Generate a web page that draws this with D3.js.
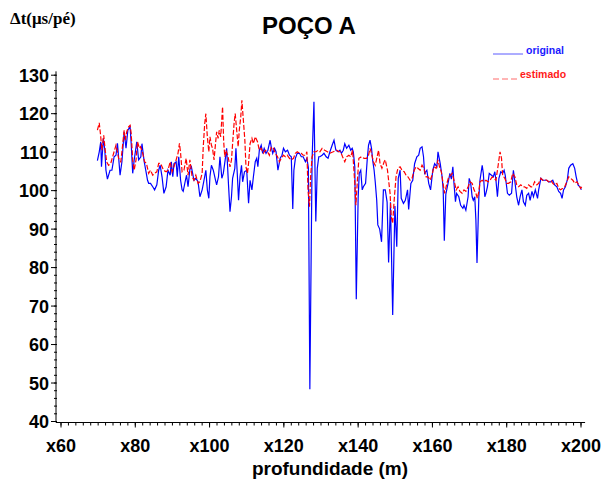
<!DOCTYPE html>
<html>
<head>
<meta charset="utf-8">
<script src="https://cdn.jsdelivr.net/npm/d3@7"></script>
<style>
  body { margin: 0; background: #fff; }
  svg { display: block; }
  .tick-label { font-family: "Liberation Sans", Arial, sans-serif; font-weight: bold; font-size: 18px; fill: #000; }
</style>
</head>
<body>
<div id="chart"></div>
<script>
// POÇO A – original vs estimado transit time by depth

// Depth (m) and transit time (µs/pé)
const depthOriginal = [
  69.8,70.3,70.7,70.9,71.4,71.8,72.1,72.5,73.2,73.7,74.3,74.8,75.2,75.5,75.9,76.4,77.0,77.5,78.0,78.6,
  78.9,79.3,79.7,80.4,80.9,81.5,81.8,82.4,82.9,83.3,83.6,84.1,84.7,85.2,85.8,86.3,86.7,87.2,87.7,88.3,
  88.8,89.4,89.7,90.1,90.4,91.0,91.3,91.7,92.2,92.6,92.9,93.5,93.8,94.2,94.7,95.1,95.8,96.3,96.9,97.4,
  98.0,98.5,99.0,99.4,99.8,100.1,100.5,101.0,101.6,101.9,102.4,102.8,103.3,103.7,104.2,104.6,105.1,105.5,105.9,106.2,
  106.8,107.1,107.5,107.8,108.2,108.6,108.9,109.4,110.0,110.5,110.9,111.4,111.8,112.3,112.7,113.0,113.4,113.9,114.3,114.7,
  115.2,115.7,116.3,116.6,117.0,117.5,117.9,118.4,119.0,119.5,119.9,120.4,121.0,121.5,122.0,122.4,122.7,123.1,123.6,124.2,
  124.7,125.2,125.8,126.2,126.6,127.0,127.6,128.1,128.6,129.0,129.4,129.7,130.3,130.8,131.4,131.9,132.4,133.0,133.5,134.0,
  134.6,135.1,135.5,136.0,136.4,136.9,137.5,138.0,138.4,138.7,139.1,139.5,140.0,140.3,140.7,141.1,141.4,142.0,142.5,142.8,
  143.2,143.6,143.9,144.3,144.6,145.0,145.3,145.8,146.3,146.8,147.3,147.8,148.2,148.7,149.3,149.9,150.4,150.8,151.3,151.6,
  152.2,152.7,153.3,153.6,154.2,154.7,155.2,155.8,156.3,156.7,157.2,157.6,157.9,158.5,159.0,159.5,160.1,160.6,161.2,161.5,
  162.1,162.6,162.9,163.2,163.6,164.2,164.7,165.1,165.5,165.8,166.2,166.5,167.1,167.6,168.2,168.5,169.0,169.6,169.9,170.3,
  170.7,171.0,171.4,171.7,172.0,172.5,172.8,173.4,173.7,174.1,174.4,174.8,175.3,175.9,176.4,176.8,177.1,177.5,177.9,178.4,
  178.9,179.3,179.6,180.2,180.7,181.3,181.8,182.2,182.7,183.2,183.6,184.1,184.5,185.0,185.4,185.9,186.3,186.8,187.2,187.7,
  188.3,188.6,189.2,189.7,190.2,190.8,191.3,191.9,192.4,192.9,193.5,194.0,194.5,194.9,195.3,195.8,196.3,196.7,197.2,197.8,
  198.3,198.7,199.2,199.7,200.1
];
const original = [
  107.8,110.1,112.7,106.2,113.6,110.5,105.3,103.0,105.3,105.3,108.8,109.2,112.3,108.8,104.0,107.5,115.3,111.0,115.7,116.6,
  112.2,104.5,107.9,112.7,108.0,108.8,112.2,107.5,104.9,102.7,101.9,101.9,101.0,100.2,101.5,105.3,106.6,103.6,99.3,101.0,
  105.3,104.0,107.5,103.6,107.0,107.5,103.6,108.8,102.7,100.2,99.8,102.7,104.0,101.0,105.5,106.2,102.7,103.2,102.3,98.4,
  100.2,102.7,105.3,100.2,98.0,103.6,106.6,105.3,102.7,101.5,103.6,108.8,103.2,104.5,108.0,111.0,101.5,94.5,98.4,103.2,
  105.8,111.0,103.6,97.5,103.6,106.6,102.3,104.9,105.3,96.7,102.7,100.2,103.6,107.5,108.4,106.2,110.5,111.8,109.7,111.0,
  109.7,110.5,113.1,111.4,109.7,111.0,110.1,105.3,108.4,109.2,111.0,110.1,110.5,109.2,108.8,95.2,105.3,108.4,109.7,109.7,
  108.8,108.8,107.5,108.4,106.0,48.4,108.0,123.1,92.0,105.8,108.8,108.8,109.2,109.7,108.8,108.4,110.1,111.8,113.1,110.5,
  110.1,110.5,109.7,110.5,112.2,111.0,111.8,110.5,111.0,110.1,106.2,71.8,98.0,104.5,105.3,100.2,101.0,101.9,108.8,111.8,
  113.1,111.0,108.0,105.3,102.3,97.5,91.1,90.0,86.7,100.2,100.2,97.0,81.3,97.0,67.7,96.0,85.4,103.2,105.3,98.0,
  96.7,97.5,100.2,95.1,101.9,102.7,107.0,108.8,109.2,111.0,111.4,108.8,104.5,105.3,101.9,100.2,105.3,107.0,106.2,110.1,
  107.0,103.6,100.2,87.0,99.0,101.9,104.5,103.0,106.2,101.9,97.1,99.3,98.4,96.2,95.4,96.2,94.9,98.4,103.2,101.9,
  98.4,97.5,98.4,92.4,81.2,98.4,102.7,106.6,104.5,98.4,99.3,101.0,104.5,104.0,103.6,104.9,102.7,98.4,103.2,104.9,
  104.5,105.3,104.0,99.3,98.8,99.3,105.3,102.3,98.4,96.2,98.4,100.2,97.1,96.2,98.8,99.3,97.5,99.8,98.4,100.2,
  98.0,100.2,103.2,102.7,102.7,102.7,102.3,102.3,102.7,101.5,101.0,99.8,99.3,98.0,100.2,101.0,102.7,105.8,106.6,107.0,
  105.8,103.6,101.5,101.0,100.2
];

const depthEstimado = [
  69.8,70.3,70.7,71.0,71.5,71.9,72.3,72.8,73.4,73.9,74.4,74.8,75.2,75.5,76.1,76.4,77.0,77.3,77.7,78.2,
  78.6,78.9,79.3,79.7,80.2,80.6,81.1,81.4,81.9,82.5,83.0,83.6,84.1,84.7,85.2,85.8,86.3,86.8,87.6,88.3,
  88.8,89.4,89.9,90.4,91.0,91.5,91.9,92.2,92.6,93.1,93.7,94.2,94.7,95.3,95.8,96.3,96.9,97.4,98.0,98.3,
  98.7,99.0,99.4,99.8,100.1,100.5,100.8,101.2,101.6,101.9,102.3,102.6,103.0,103.5,103.8,104.1,104.4,104.9,105.5,105.9,
  106.2,106.6,106.9,107.3,107.7,108.0,108.4,108.7,109.1,109.5,109.8,110.2,110.5,110.9,111.4,111.8,112.3,112.9,113.4,113.9,
  114.5,115.0,115.6,116.1,116.6,117.2,117.7,118.3,118.8,119.3,119.9,120.4,120.9,121.5,122.0,122.6,123.1,123.6,124.2,124.7,
  125.2,125.8,126.2,126.5,126.9,127.2,127.6,128.1,128.7,129.2,129.7,130.3,131.0,131.7,132.3,133.3,134.2,134.8,135.3,135.8,
  136.4,136.9,137.5,138.0,138.5,139.1,139.4,139.8,140.2,140.9,141.6,142.3,142.8,143.2,143.6,144.1,144.6,145.2,145.5,145.9,
  146.4,147.0,147.3,147.9,148.2,148.6,148.9,149.3,149.7,150.2,150.7,151.3,151.8,152.4,152.9,153.4,154.0,154.5,155.1,155.6,
  156.1,156.7,157.2,157.7,158.3,158.8,159.4,159.9,160.4,161.0,161.5,161.9,162.4,163.0,163.3,163.9,164.4,164.9,165.3,165.8,
  166.4,166.9,167.4,168.0,168.5,169.0,169.6,170.1,170.7,171.2,171.7,172.1,172.5,172.8,173.4,173.9,174.4,175.0,175.5,176.1,
  176.6,177.1,177.7,178.2,178.6,178.9,179.5,180.0,180.5,181.1,181.6,182.2,182.7,183.2,183.8,184.3,184.8,185.4,185.9,186.5,
  187.0,187.5,188.1,188.6,189.2,189.7,190.2,190.8,191.3,191.9,192.4,192.9,193.5,194.0,194.5,195.1,195.6,196.2,196.7,197.2,
  197.8,198.3,198.9,199.4,199.9,200.2
];
const estimado = [
  115.7,117.6,114.0,110.5,114.4,110.5,107.5,106.6,107.1,108.8,110.5,111.8,110.1,108.4,107.5,110.1,115.7,113.1,115.3,116.6,
  117.0,114.9,108.0,105.3,108.0,112.7,111.0,111.4,110.1,107.5,107.1,104.5,105.3,104.0,104.5,104.9,107.1,107.1,105.3,104.9,
  105.3,107.5,104.9,106.2,108.0,109.7,112.3,109.7,104.9,105.3,108.4,104.0,108.0,103.6,102.7,104.0,101.9,102.3,104.5,111.4,
  117.5,120.0,114.0,110.1,114.0,111.8,111.0,108.0,112.2,115.3,113.6,115.7,114.0,121.8,112.7,108.8,110.5,109.2,106.2,108.0,
  112.2,117.5,120.0,115.7,111.4,115.7,119.2,123.5,118.3,113.1,106.2,104.5,107.1,112.2,113.6,112.2,114.0,112.7,110.5,111.0,
  109.7,110.5,110.1,109.2,111.4,111.0,109.7,108.8,107.5,108.4,109.2,108.8,109.2,108.4,108.0,108.4,109.7,110.1,109.7,109.7,
  109.2,109.2,110.1,100.2,95.8,103.6,108.8,110.1,110.1,110.5,110.1,111.0,110.5,110.1,109.7,110.1,110.5,110.1,110.1,108.8,
  107.5,108.8,109.2,108.8,110.5,101.9,96.2,102.7,108.4,108.8,108.4,108.4,109.2,111.0,109.7,107.5,106.6,109.2,110.5,107.0,
  105.8,107.5,108.0,105.3,102.7,99.3,93.2,91.5,97.5,103.6,105.8,106.2,105.3,104.9,104.0,103.6,102.7,103.2,105.3,106.2,
  105.8,105.3,106.6,105.8,103.6,103.6,102.7,104.0,106.2,105.8,108.0,106.2,104.9,101.0,99.3,101.9,103.6,104.0,104.5,102.7,
  100.2,101.0,99.8,99.3,100.2,99.8,101.0,102.3,101.9,100.2,99.3,98.0,99.8,102.3,102.7,102.3,102.7,102.3,102.7,103.6,
  103.2,102.7,106.6,110.1,108.4,104.0,103.2,101.9,101.9,102.3,104.5,103.6,101.5,101.0,101.5,101.0,101.0,100.6,101.5,101.0,
  101.0,102.3,101.5,101.9,103.2,102.7,102.9,102.7,102.3,102.7,101.9,101.5,101.9,100.6,100.2,100.6,101.0,102.3,103.6,103.2,
  102.7,101.9,102.3,101.5,100.6,101.0
];

// Axis ticks
const xTicks = [60, 80, 100, 120, 140, 160, 180, 200];
const yTicks = [40, 50, 60, 70, 80, 90, 100, 110, 120, 130];

const width = 607, height = 486;

const svg = d3.select("#chart")
  .append("svg")
  .attr("width", width)
  .attr("height", height);

// Scales
const x = d3.scaleLinear().domain([60, 200]).range([61, 581]);
const y = d3.scaleLinear().domain([40, 130]).range([421.5, 75.2]);

const axisX = 56;              // where the y axis line sits
const axisY = y(40) + 1;       // where the x axis line sits

// Y axis
const yAxis = svg.append("g");
yAxis.append("line")
  .attr("x1", axisX).attr("x2", axisX)
  .attr("y1", y(131)).attr("y2", axisY)
  .attr("stroke", "#000");
yAxis.selectAll(".yminor")
  .data(d3.range(40, 131, 2))
  .join("line")
  .attr("x1", axisX - 2).attr("x2", axisX + 1)
  .attr("y1", d => y(d)).attr("y2", d => y(d))
  .attr("stroke", "#000");
yAxis.selectAll(".ymajor")
  .data(yTicks)
  .join("line")
  .attr("x1", axisX - 5).attr("x2", axisX)
  .attr("y1", d => y(d)).attr("y2", d => y(d))
  .attr("stroke", "#000");
yAxis.selectAll("text")
  .data(yTicks)
  .join("text")
  .attr("class", "tick-label")
  .attr("x", axisX - 7)
  .attr("y", d => y(d) + 6.5)
  .attr("text-anchor", "end")
  .text(d => d);

// X axis
const xAxis = svg.append("g");
xAxis.append("line")
  .attr("x1", axisX).attr("x2", x(201.1))
  .attr("y1", axisY).attr("y2", axisY)
  .attr("stroke", "#000");
xAxis.selectAll(".xminor")
  .data(d3.range(60, 201, 2))
  .join("line")
  .attr("x1", d => x(d)).attr("x2", d => x(d))
  .attr("y1", axisY).attr("y2", axisY + 3)
  .attr("stroke", "#000");
xAxis.selectAll(".xmajor")
  .data(xTicks)
  .join("line")
  .attr("x1", d => x(d)).attr("x2", d => x(d))
  .attr("y1", axisY).attr("y2", axisY + 5)
  .attr("stroke", "#000");
xAxis.selectAll("text")
  .data(xTicks)
  .join("text")
  .attr("class", "tick-label")
  .attr("x", d => x(d))
  .attr("y", axisY + 29)
  .attr("text-anchor", "middle")
  .text(d => "x" + d);

// Lines
const line = d3.line()
  .x(d => x(d[0]))
  .y(d => y(d[1]));

svg.append("path")
  .datum(d3.zip(depthOriginal, original))
  .attr("fill", "none")
  .attr("stroke", "#0000ff")
  .attr("stroke-width", 1.2)
  .attr("d", line);

svg.append("path")
  .datum(d3.zip(depthEstimado, estimado))
  .attr("fill", "none")
  .attr("stroke", "#ff0000")
  .attr("stroke-width", 1.2)
  .attr("stroke-dasharray", "5,2")
  .attr("d", line);

// Titles
svg.append("text")
  .attr("x", 309).attr("y", 34)
  .attr("text-anchor", "middle")
  .style("font-family", "'Liberation Sans', Arial, sans-serif")
  .style("font-weight", "bold")
  .style("font-size", "24px")
  .text("POÇO A");

svg.append("text")
  .attr("x", 10).attr("y", 24)
  .style("font-family", "'Liberation Serif', 'Times New Roman', serif")
  .style("font-weight", "bold")
  .style("font-size", "17px")
  .text("Δt(μs/pé)");

svg.append("text")
  .attr("x", 330).attr("y", 475)
  .attr("text-anchor", "middle")
  .style("font-family", "'Liberation Sans', Arial, sans-serif")
  .style("font-weight", "bold")
  .style("font-size", "19px")
  .text("profundidade (m)");

// Legend
const legend = svg.append("g")
  .style("font-family", "'Liberation Sans', Arial, sans-serif")
  .style("font-weight", "bold")
  .style("font-size", "10.5px");

legend.append("line")
  .attr("x1", 493).attr("x2", 523)
  .attr("y1", 54).attr("y2", 54)
  .attr("stroke", "#5a5aff").attr("stroke-width", 1);
legend.append("text")
  .attr("x", 526).attr("y", 53.5)
  .attr("fill", "#1a1aff")
  .text("original");

legend.append("line")
  .attr("x1", 493).attr("x2", 517)
  .attr("y1", 79).attr("y2", 79)
  .attr("stroke", "#ff6a6a").attr("stroke-width", 1)
  .attr("stroke-dasharray", "6,3");
legend.append("text")
  .attr("x", 520).attr("y", 77.5)
  .attr("fill", "#ff1a1a")
  .text("estimado");
</script>
</body>
</html>
